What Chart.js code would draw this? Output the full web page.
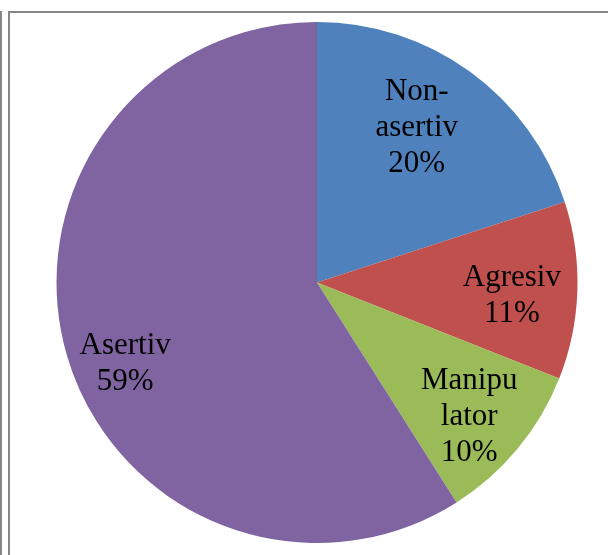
<!DOCTYPE html>
<html>
<head>
<meta charset="utf-8">
<script src="https://cdn.jsdelivr.net/npm/chart.js@4"></script>
<style>
  html, body { margin: 0; padding: 0; background: #fff; }
  #wrap { width: 608px; height: 555px; position: relative; }
</style>
</head>
<body>
<div id="wrap"><canvas id="myChart"></canvas></div>
<script>
const categories = ['Non-asertiv', 'Agresiv', 'Manipulator', 'Asertiv'];
const percents = [20, 11, 10, 59];
// how each category name is wrapped inside its slice
const labelLines = [['Non-', 'asertiv'], ['Agresiv'], ['Manipu', 'lator'], ['Asertiv']];
const sliceColors = ['#4F81BD', '#C0504D', '#9BBB59', '#8064A2'];

// label anchor: share of the radius, and a nudge (degrees) off the slice mid-angle
const labelPlacement = [
  { r: 0.705, turn: -3.1 },
  { r: 0.75, turn: 2.2 },
  { r: 0.78, turn: 1.9 },
  { r: 0.80, turn: -6.8 }
];

const frame = {
  id: 'frame',
  beforeDraw(chart) {
    const ctx = chart.ctx;
    ctx.save();
    ctx.fillStyle = '#ffffff';
    ctx.fillRect(0, 0, chart.width, chart.height);
    ctx.fillStyle = '#868686';
    ctx.fillRect(0, 11, 2, chart.height - 11);
    ctx.fillRect(8, 11, 2, chart.height - 11);
    ctx.fillRect(8, 11, chart.width - 8, 2);
    ctx.restore();
  }
};

const sliceLabels = {
  id: 'sliceLabels',
  afterDatasetsDraw(chart) {
    const ctx = chart.ctx;
    const arcs = chart.getDatasetMeta(0).data;
    ctx.save();
    ctx.fillStyle = '#000000';
    ctx.font = '31px "Liberation Serif", "Times New Roman", serif';
    ctx.textAlign = 'center';
    ctx.textBaseline = 'middle';
    const lineHeight = 36;
    arcs.forEach((arc, i) => {
      const p = labelPlacement[i];
      const mid = (arc.startAngle + arc.endAngle) / 2 + p.turn * Math.PI / 180;
      const cx = arc.x + Math.cos(mid) * arc.outerRadius * p.r;
      const cy = arc.y + Math.sin(mid) * arc.outerRadius * p.r;
      const lines = labelLines[i].concat([percents[i] + '%']);
      const top = cy - (lines.length - 1) * lineHeight / 2;
      lines.forEach((txt, k) => ctx.fillText(txt, cx, top + k * lineHeight));
    });
    ctx.restore();
  }
};

new Chart(document.getElementById('myChart'), {
  type: 'pie',
  data: {
    labels: categories,
    datasets: [{
      data: percents,
      backgroundColor: sliceColors,
      borderWidth: 0
    }]
  },
  options: {
    responsive: true,
    maintainAspectRatio: false,
    animation: false,
    layout: { padding: { top: 22, bottom: 12, left: 56, right: 30 } },
    plugins: {
      legend: { display: false },
      tooltip: { enabled: false }
    }
  },
  plugins: [frame, sliceLabels]
});
</script>
</body>
</html>
